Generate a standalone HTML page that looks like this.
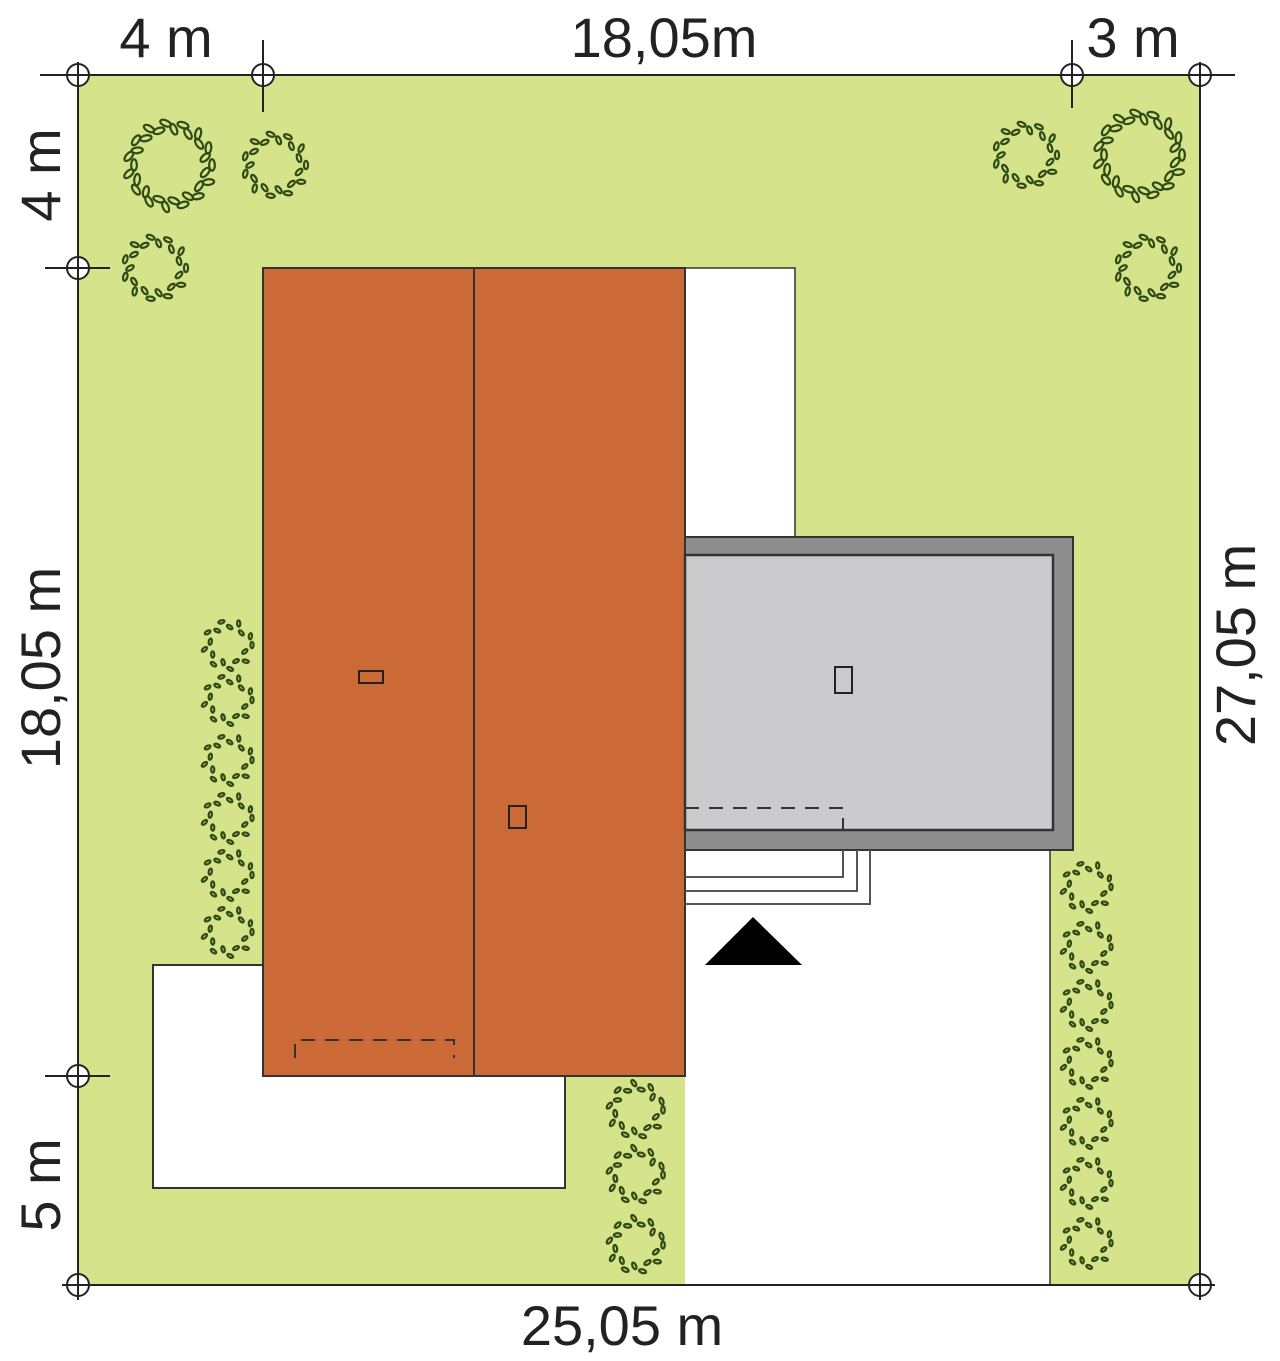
<!DOCTYPE html>
<html><head><meta charset="utf-8"><style>
html,body{margin:0;padding:0;background:#fff;}
svg{display:block;}
text{font-family:"Liberation Sans",sans-serif;font-size:56px;fill:#222;}
</style></head><body>
<svg id="s" width="1280" height="1361" viewBox="0 0 1280 1361" xmlns="http://www.w3.org/2000/svg">
<rect x="78" y="75" width="1122" height="1210" fill="#d5e48a"/>
<rect x="685" y="268" width="110" height="269" fill="#fff" stroke="#333" stroke-width="1.5"/>
<rect x="685" y="850" width="365" height="435" fill="#fff"/>
<line x1="1050" y1="850" x2="1050" y2="1285" stroke="#333" stroke-width="1.5"/>
<rect x="153" y="965" width="412" height="223" fill="#fff" stroke="#333" stroke-width="2"/>
<rect x="263" y="268" width="211" height="808" fill="#cc6a37" stroke="#333" stroke-width="2"/>
<rect x="474" y="268" width="211" height="808" fill="#cc6a37" stroke="#333" stroke-width="2"/>
<rect x="685" y="537" width="388" height="313" fill="#8e8e8e" stroke="#333" stroke-width="2"/>
<rect x="685" y="555" width="368" height="275" fill="#cbcbcd" stroke="#333" stroke-width="2.5"/>
<rect x="359" y="671" width="24" height="12" fill="none" stroke="#222" stroke-width="2"/>
<rect x="509" y="806" width="17" height="22" fill="none" stroke="#222" stroke-width="2"/>
<rect x="835" y="667" width="17" height="26" fill="none" stroke="#222" stroke-width="2"/>
<polyline points="295,1058 295,1040 454,1040 454,1058" fill="none" stroke="#333" stroke-width="2" stroke-dasharray="14,10"/>
<polyline points="685,808 843,808 843,830" fill="none" stroke="#333" stroke-width="2" stroke-dasharray="14,10"/>
<g fill="none" stroke="#555" stroke-width="2">
<polyline points="685,877 843,877 843,850"/>
<polyline points="685,891 857,891 857,850"/>
<polyline points="685,904 870,904 870,850"/>
</g>
<polygon points="705,965 753,917 802,965" fill="#000"/>
<g stroke="#222" stroke-width="2" fill="none">
<line x1="40" y1="75" x2="1235" y2="75"/>
<line x1="78" y1="62" x2="78" y2="1300"/>
<line x1="1200" y1="62" x2="1200" y2="1300"/>
<line x1="62" y1="1285" x2="1215" y2="1285"/>
<line x1="263" y1="40" x2="263" y2="112"/>
<line x1="1072" y1="40" x2="1072" y2="108"/>
<line x1="45" y1="268" x2="110" y2="268"/>
<line x1="45" y1="1076" x2="110" y2="1076"/>
</g>
<g id="circ" stroke="#222" stroke-width="2" fill="#fff"></g>
<g id="trees" fill="none" stroke="#2f4a14" stroke-width="2.2"></g>
<text x="166" y="57" text-anchor="middle">4 m</text>
<text x="664" y="57" text-anchor="middle">18,05m</text>
<text x="1133" y="57" text-anchor="middle">3 m</text>
<text x="622" y="1345" text-anchor="middle">25,05 m</text>
<text transform="translate(60,175) rotate(-90)" text-anchor="middle">4 m</text>
<text transform="translate(60,668) rotate(-90)" text-anchor="middle">18,05 m</text>
<text transform="translate(60,1185) rotate(-90)" text-anchor="middle">5 m</text>
<text transform="translate(1255,645) rotate(-90)" text-anchor="middle">27,05 m</text>
</svg>
<script>
var NS="http://www.w3.org/2000/svg";
var c=document.getElementById("circ");
[[78,75],[263,75],[1072,75],[1200,75],[78,268],[78,1076],[78,1285],[1200,1285]].forEach(function(p){
 var e=document.createElementNS(NS,"circle");e.setAttribute("cx",p[0]);e.setAttribute("cy",p[1]);e.setAttribute("r",11);c.appendChild(e);
 var l=document.createElementNS(NS,"path");l.setAttribute("d","M"+(p[0]-11)+" "+p[1]+"h22M"+p[0]+" "+(p[1]-11)+"v22");c.appendChild(l);
});
var t=document.getElementById("trees");
function tree(x,y,r){
 var n=Math.round(r*0.75);
 for(var i=0;i<n;i++){
  var a=i/n*Math.PI*2;
  var e=document.createElementNS(NS,"ellipse");
  var rr=r+((i%2)?-4:2);
  e.setAttribute("cx",(x+rr*Math.cos(a)).toFixed(1));
  e.setAttribute("cy",(y+rr*Math.sin(a)).toFixed(1));
  e.setAttribute("rx",r/7);e.setAttribute("ry",r/14);
  e.setAttribute("transform","rotate("+(a*180/Math.PI+90+(i%3)*30)+" "+(x+rr*Math.cos(a)).toFixed(1)+" "+(y+rr*Math.sin(a)).toFixed(1)+")");
  t.appendChild(e);
 }
}
tree(170,165,40);tree(1140,155,40);
tree(275,165,29);tree(155,268,29);tree(1026,155,29);tree(1148,268,29);
[645,700,760,818,875,932].forEach(function(y){tree(228,y,22);});
[1110,1175,1245].forEach(function(y){tree(636,y,25);});
[887,947,1005,1063,1123,1183,1243].forEach(function(y){tree(1087,y,22);});
</script>
</body></html>
